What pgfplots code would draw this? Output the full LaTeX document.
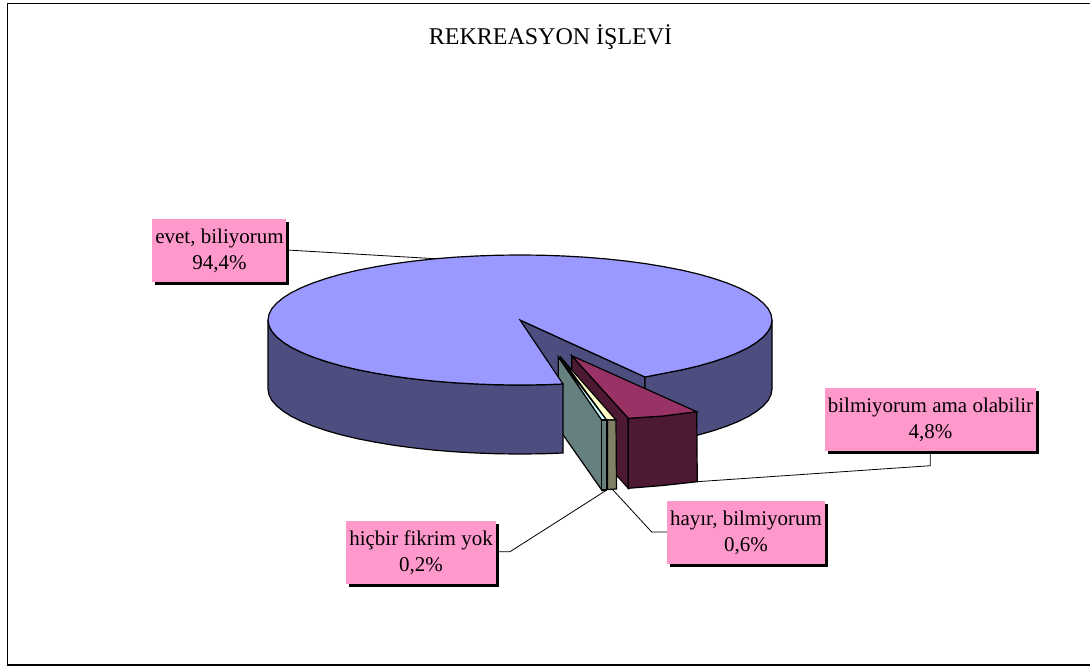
\documentclass[border=0pt]{standalone}
\usepackage{fontspec}
\setmainfont{Liberation Serif}
\usepackage{pgfplots}
\usepackage{pgfplotstable}
\pgfplotsset{compat=1.18}

\definecolor{mainTop}{HTML}{9999FF}
\definecolor{mainSide}{HTML}{4D4D80}
\definecolor{marTop}{HTML}{993366}
\definecolor{marSide}{HTML}{4D1933}
\definecolor{yelTop}{HTML}{FFFFCC}
\definecolor{yelSide}{HTML}{808066}
\definecolor{cyaTop}{HTML}{CCFFFF}
\definecolor{cyaSide}{HTML}{668080}
\definecolor{labelBg}{HTML}{FF99CC}

\newcommand{\polyfill}[2]{\addplot[fill=#1,draw=black,line width=1.2pt,line join=miter] coordinates {#2} -- cycle;}

\begin{document}
\begin{tikzpicture}
\begin{axis}[
  hide axis, scale only axis,
  width=1090pt, height=666pt,
  xmin=0, xmax=1090, ymin=0, ymax=666,
  y dir=reverse,
]
\addplot[fill=white,draw=none] coordinates {(0,0)(1090,0)(1090,666)(0,666)} -- cycle;

% frame
\addplot[black,line width=1.5pt] coordinates {(1090,3.5)(7.5,3.5)(7.5,665)(1090,665)};

% leaders
\addplot[black,line width=0.8pt] coordinates {(287,250)(440,259)};
\addplot[black,line width=0.8pt] coordinates {(930.3,454)(930.3,465.7)(697,481.7)};
\addplot[black,line width=0.8pt] coordinates {(667,532)(651.7,532)(613,490)};
\addplot[black,line width=0.8pt] coordinates {(499,551.7)(510,551.7)(606,490.5)};

% cut face and right wall of the big slice
\polyfill{mainSide}{(520,320)(645,377)(645,446)(520,389)}
\polyfill{mainSide}{(772,320)(771,325.7)(768.2,331.3)(763.4,336.8)(756.8,342.2)(748.4,347.5)(738.2,352.5)(726.4,357.3)(713,361.8)(698.2,366)(682,369.8)(664.5,373.2)(645,377)
  (645,446)(664.5,442.2)(682,438.8)(698.2,435)(713,430.8)(726.4,426.3)(738.2,421.5)(748.4,416.5)(756.8,411.2)(763.4,405.8)(768.2,400.3)(771,394.7)(772,389)}

% 4,8 slice
\polyfill{marSide}{(571.7,355.7)(628.3,418.3)(628.3,488.3)(571.7,425.7)}
\polyfill{marSide}{(628.3,418.3)(663,416)(696.7,411.7)(697.3,481.7)(663,485.5)(628.3,488.3)}
\polyfill{marTop}{(571.7,355.7)(696.7,411.7)(663,416)(628.3,418.3)}

% 0,2 slice
\polyfill{cyaSide}{(558.3,356.7)(601.7,420)(601.7,490)(558.3,428)}
\polyfill{cyaTop}{(558.3,356.7)(601.7,420)(606.7,420)}
\polyfill{cyaSide}{(601.7,420)(606.7,420)(606.7,490)(601.7,490)}

% 0,6 slice
\polyfill{yelTop}{(560,356.5)(606.7,420)(616,420)}
\polyfill{yelSide}{(607.5,420)(616,420)(616.5,489)(607.5,489.5)}

% left wall and top of the big slice
\polyfill{mainSide}{(563,384)(542,384.8)(520,385)(498,384.8)(476.2,384)(454.8,382.8)(433.8,381.1)(413.5,378.9)(394,376.3)(375.5,373.2)(358,369.8)(341.8,366)(327,361.8)(313.6,357.3)(301.8,352.5)(291.6,347.5)(283.2,342.2)(276.6,336.8)(271.8,331.3)(269,325.7)(268,320)
  (268,389)(269,394.7)(271.8,400.3)(276.6,405.8)(283.2,411.2)(291.6,416.5)(301.8,421.5)(313.6,426.3)(327,430.8)(341.8,435)(358,438.8)(375.5,442.2)(394,445.3)(413.5,447.9)(433.8,450.1)(454.8,451.8)(476.2,453)(498,453.8)(520,454)(542,453.8)(563,453)}
\polyfill{mainTop}{(520,320)(563,384)(542,384.8)(520,385)(498,384.8)(476.2,384)(454.8,382.8)(433.8,381.1)(413.5,378.9)(394,376.3)(375.5,373.2)(358,369.8)(341.8,366)(327,361.8)(313.6,357.3)(301.8,352.5)(291.6,347.5)(283.2,342.2)(276.6,336.8)(271.8,331.3)(269,325.7)(268,320)
  (269,314.3)(271.8,308.7)(276.6,303.2)(283.2,297.8)(291.6,292.5)(301.8,287.5)(313.6,282.7)(327,278.2)(341.8,274)(358,270.2)(375.5,266.8)(394,263.7)(413.5,261.1)(433.8,258.9)(454.8,257.2)(476.2,256)(498,255.2)(520,255)
  (542,255.2)(563.8,256)(585.2,257.2)(606.2,258.9)(626.5,261.1)(646,263.7)(664.5,266.8)(682,270.2)(698.2,274)(713,278.2)(726.4,282.7)(738.2,287.5)(748.4,292.5)(756.8,297.8)(763.4,303.2)(768.2,308.7)(771,314.3)(772,320)
  (771,325.7)(768.2,331.3)(763.4,336.8)(756.8,342.2)(748.4,347.5)(738.2,352.5)(726.4,357.3)(713,361.8)(698.2,366)(682,369.8)(664.5,373.2)(645,377)}

% label boxes
\addplot[fill=black,draw=none] coordinates {(155.3,222)(289,222)(289,284.7)(155.3,284.7)} -- cycle;
\addplot[fill=labelBg,draw=none] coordinates {(152.3,219)(286,219)(286,281.7)(152.3,281.7)} -- cycle;
\addplot[fill=black,draw=none] coordinates {(828,391.3)(1039,391.3)(1039,453.7)(828,453.7)} -- cycle;
\addplot[fill=labelBg,draw=none] coordinates {(825,388.3)(1036,388.3)(1036,450.7)(825,450.7)} -- cycle;
\addplot[fill=black,draw=none] coordinates {(670,504)(828,504)(828,566.7)(670,566.7)} -- cycle;
\addplot[fill=labelBg,draw=none] coordinates {(667,501)(825,501)(825,563.7)(667,563.7)} -- cycle;
\addplot[fill=black,draw=none] coordinates {(349,524)(499,524)(499,587)(349,587)} -- cycle;
\addplot[fill=labelBg,draw=none] coordinates {(346,521)(496,521)(496,584)(346,584)} -- cycle;

\node[font=\fontsize{24}{28}\selectfont] at (axis cs:550.5,37) {REKREASYON İŞLEVİ};
\node[font=\fontsize{21}{26}\selectfont,align=center] at (axis cs:219.5,250.5) {evet, biliyorum\\94,4\%};
\node[font=\fontsize{21}{26}\selectfont,align=center] at (axis cs:930.5,419.5) {bilmiyorum ama olabilir\\4,8\%};
\node[font=\fontsize{21}{26}\selectfont,align=center] at (axis cs:746,532.5) {hayır, bilmiyorum\\0,6\%};
\node[font=\fontsize{21}{26}\selectfont,align=center] at (axis cs:421,552.5) {hiçbir fikrim yok\\0,2\%};
\end{axis}
\end{tikzpicture}
\end{document}
